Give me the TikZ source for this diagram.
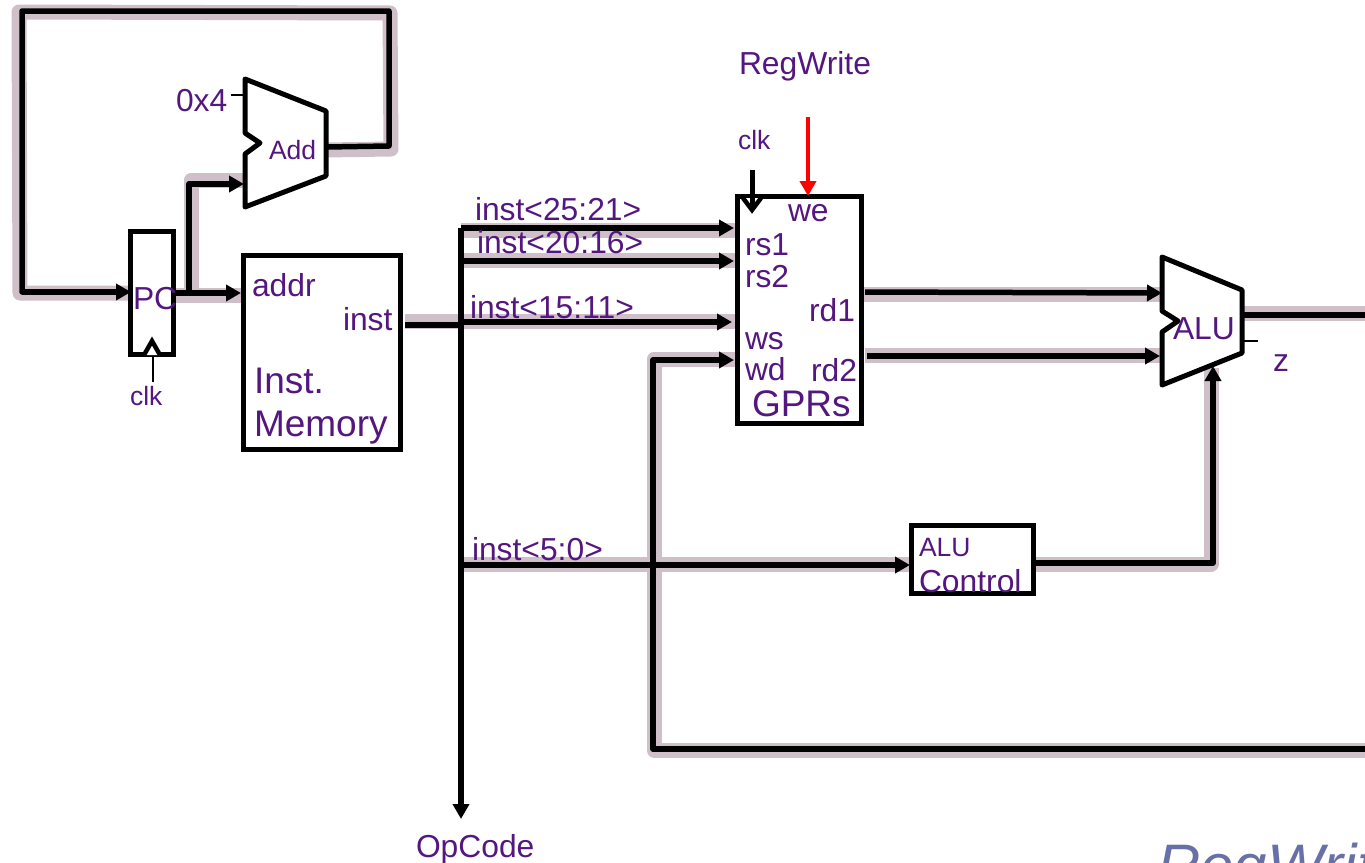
\documentclass[tikz,border=0pt]{standalone}
\usepackage{fontspec}
\setmainfont{Liberation Sans}
\usetikzlibrary{arrows.meta}
\definecolor{txt}{HTML}{54177F}
\definecolor{halo}{HTML}{CFBFC9}
\definecolor{bigtxt}{HTML}{6870A8}
\tikzset{
  x=1pt,y=-1pt,
  lbl/.style={anchor=base west,inner sep=0pt,outer sep=0pt,text=txt,font=\fontsize{31.8}{31.8}\selectfont},
  lblsm/.style={lbl,font=\fontsize{26.5}{26.5}\selectfont},
  lblbig/.style={lbl,font=\fontsize{37}{37}\selectfont},
  box/.style={draw=black,fill=white,line width=5pt,inner sep=0pt,outer sep=0pt,anchor=north west,line join=miter},
  shape box/.style={draw=black,fill=white,line width=5pt,line join=round},
  glow/.style={draw=halo,line width=15pt,line join=round},
  wire/.style={draw=black,line width=5.5pt,line join=round},
  wirea/.style={wire,-{Triangle[length=15pt,width=16pt]}},
  thin wire/.style={draw=black,line width=2.5pt},
}
\begin{document}
\begin{tikzpicture}
\useasboundingbox (0,0) rectangle (1365,862);
\clip (0,0) rectangle (1365,862);
% pins
\coordinate (addout) at (326,147);
\coordinate (addinb) at (244,184);
\coordinate (pcin) at (131,292);
\coordinate (pcout) at (173,293);
\coordinate (memin) at (241,293);
\coordinate (memout) at (405,325);
\coordinate (busT) at (461,228);
\coordinate (busJ) at (461,325);
\coordinate (busB) at (461,819);
\coordinate (tA) at (734,228);
\coordinate (tB) at (734,261);
\coordinate (tC) at (732,322);
\coordinate (tD) at (734,360);
\coordinate (r1out) at (865,292);
\coordinate (r2out) at (867,356);
\coordinate (aluA) at (1162,293);
\coordinate (aluB) at (1160,356);
\coordinate (aluC) at (1213,366);
\coordinate (aluout) at (1242,315);
\coordinate (eastA) at (1365,315);
\coordinate (eastB) at (1365,749);
\coordinate (ctlin) at (910,565);
\coordinate (ctlout) at (1035,563);
\coordinate (busC) at (461,565);

% halos
\draw[glow] (326,150) -- (391,149) -- (390,13) -- (19,12) -- (20,293) -- (131,293);
\draw[glow] (191,294) -- (191,180) -- (245,180);
\draw[glow] (173,295) -- (243,295);
\draw[glow] (461,230) -- (737,230);
\draw[glow] (461,260) -- (737,260);
\draw[glow] (405,321) -- (737,321);
\draw[glow] (737,359) -- (654,359) -- (654,750) -- (1365,750);
\draw[glow] (862,294) -- (1162,294);
\draw[glow] (865,355) -- (1162,355);
\draw[glow] (1242,313) -- (1365,313);
\draw[glow] (461,564) -- (911,564);
\draw[glow] (1035,564) -- (1211,564) -- (1211,368);

% wires
\draw[wire] (addout) -- (389,146) -- (389,11) -- (22,11) -- (22,292) -- (60,292);
\draw[wirea] (22,292) -- (pcin);
\draw[wirea] (pcout) -- (memin);
\draw[wirea] (189,293) -- (189,184) -- (addinb);
\draw[wire] (memout) -- (busJ);
\draw[wirea] (busT |- tA) -- (tA);
\draw[wirea] (busT |- tB) -- (tB);
\draw[wirea] (461,322) -- (tC);
\draw[wirea] (busT) -- (busB);
\draw[wirea] (eastB) -- (653,749) -- (653,360) -- (tD);
\draw[wirea] (r1out) -- (aluA);
\draw[wirea] (r2out) -- (aluB);
\draw[wire] (aluout) -- (eastA);
\draw[wirea] (busC) -- (ctlin);
\draw[wirea] (ctlout) -- (1213,563) -- (aluC);
\draw[thin wire] (231,95) -- (245,95);
\draw[thin wire] (1243,341) -- (1258,341);

% blocks
\node[box,minimum width=43pt,minimum height=123pt] (pc) at (130.5,231.5) {};
\node[box,minimum width=157pt,minimum height=194.5pt] (mem) at (243.5,255) {};
\node[box,minimum width=123.5pt,minimum height=226.5pt] (gpr) at (737.5,196.5) {};
\node[box,minimum width=122.5pt,minimum height=68pt] (ctl) at (911,525.5) {};
\draw[shape box] (245,79) -- (326,111) -- (326,176) -- (245,207) -- (245,154) -- (260,143) -- (245,133) -- cycle;
\draw[shape box] (1162,257) -- (1242,290) -- (1242,353) -- (1162,385) -- (1162,332) -- (1178,321) -- (1162,311) -- cycle;

% clock marks
\draw[draw=black,line width=2.5pt] (153,382) -- (153,350);
\draw[draw=black,fill=white,line width=4.5pt,line join=miter] (144,355) -- (152,341) -- (160,355);
\draw[draw=black,fill=white,line width=4.5pt,line join=miter] (743,198) -- (752,210) -- (761,198);
\draw[draw=black,line width=5pt] (752,170) -- (752,206);
\draw[draw=red,line width=4.5pt,-{Triangle[length=15pt,width=16pt]}] (808,117) -- (808,196);

% text
\node[lbl] (tadd0) at (176,111) {0x4};
\node[lblsm] (tadd) at (269,159) {Add};
\node[lbl] (tpc) at (133,309) {PC};
\node[lblsm] (tclka) at (130,405) {clk};
\node[lbl] (taddr) at (252,296) {addr};
\node[lbl] (tinst) at (343,330) {inst};
\node[lblbig] (tinsta) at (254,393) {Inst.};
\node[lblbig] (tinstb) at (254,436) {Memory};
\node[lbl] (rw) at (739,74) {RegWrite};
\node[lblsm] (tclkb) at (738,149) {clk};
\node[lbl] (ta) at (475,220) {inst<25:21>};
\node[lbl] (tb) at (477,253) {inst<20:16>};
\node[lbl] (tc) at (470,318) {inst<15:11>};
\node[lbl] (td) at (472,560) {inst<5:0>};
\node[lbl] (twe) at (788,221) {we};
\node[lbl] (trs1) at (745,255) {rs1};
\node[lbl] (trs2) at (745,287) {rs2};
\node[lbl] (trd1) at (809,321) {rd1};
\node[lbl] (tws) at (745,349) {ws};
\node[lbl] (twd) at (745,380) {wd};
\node[lbl] (trd2) at (811,381) {rd2};
\node[lblbig] (tgpr) at (752,416) {GPRs};
\node[lbl] (talu) at (1173,339) {ALU};
\node[lbl] (tz) at (1273,371) {z};
\node[lblsm] (tctla) at (919,556) {ALU};
\node[lbl] (tctlb) at (919,592) {Control};
\node[lbl] (top) at (416,857) {OpCode};
\node[anchor=base west,inner sep=0,text=bigtxt,font=\fontsize{60}{60}\selectfont\itshape] (big) at (1157,886) {RegWrite};
\end{tikzpicture}
\end{document}
